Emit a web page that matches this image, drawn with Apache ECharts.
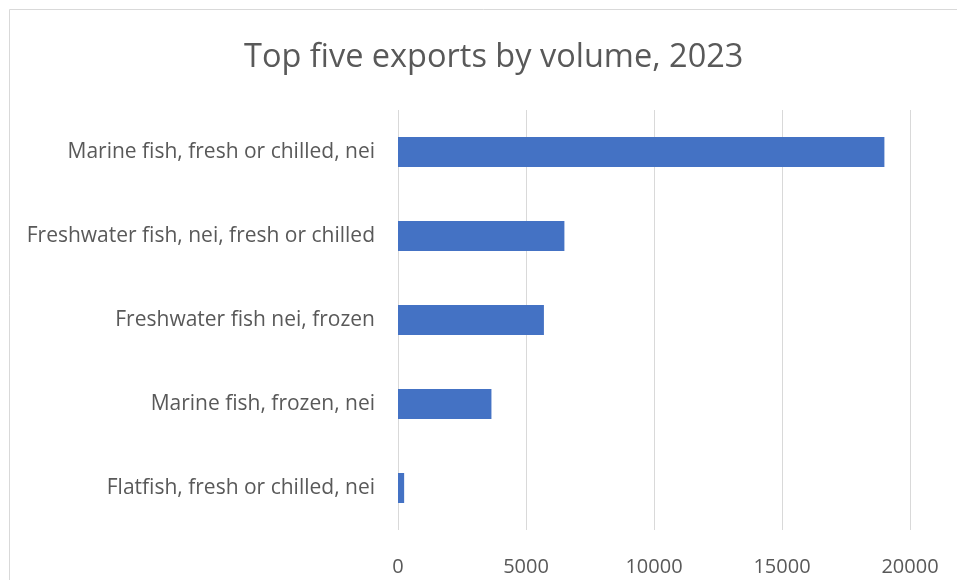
<!DOCTYPE html>
<html>
<head>
<meta charset="utf-8">
<script src="https://cdn.jsdelivr.net/npm/echarts@6/dist/echarts.min.js"></script>
<style>
  html, body { margin: 0; padding: 0; background: #ffffff; }
  #chart { width: 957px; height: 580px; }
</style>
</head>
<body>
<div id="chart"></div>
<script>
// Export products, listed top to bottom as drawn
const categories = [
  'Marine fish, fresh or chilled, nei',
  'Freshwater fish, nei, fresh or chilled',
  'Freshwater fish nei, frozen',
  'Marine fish, frozen, nei',
  'Flatfish, fresh or chilled, nei'
];
// Export volume per product
const volumes = [19000, 6500, 5700, 3650, 240];
// Value axis ticks
const xTicks = [0, 5000, 10000, 15000, 20000];

const chart = echarts.init(document.getElementById('chart'));
const textColor = '#595959';
const font = '"Open Sans", Lato, sans-serif';

chart.setOption({
  animation: false,
  backgroundColor: '#ffffff',
  graphic: [{
    type: 'rect',
    shape: { x: 9.5, y: 9.5, width: 1000, height: 1000 },
    style: { fill: 'none', stroke: '#d9d9d9', lineWidth: 1 },
    silent: true
  }],
  title: {
    text: 'Top five exports by volume, 2023',
    left: 239,
    top: 36,
    textStyle: { fontFamily: font, fontSize: 32.5, fontWeight: 'normal', color: textColor }
  },
  grid: { left: 398, right: 47, top: 110, height: 420, containLabel: false },
  xAxis: {
    type: 'value',
    min: xTicks[0],
    max: xTicks[xTicks.length - 1],
    interval: xTicks[1] - xTicks[0],
    axisLine: { show: false },
    axisTick: { show: false },
    splitLine: { show: true, lineStyle: { color: '#d9d9d9', width: 1 } },
    axisLabel: {
      margin: 27, fontFamily: font, fontSize: 20, color: textColor,
      formatter: v => String(v)
    }
  },
  yAxis: {
    type: 'category',
    inverse: true,
    data: categories,
    axisLine: { show: false },
    axisTick: { show: false },
    axisLabel: { margin: 23, fontFamily: font, fontSize: 21, color: textColor }
  },
  series: [{
    type: 'bar',
    data: volumes,
    barWidth: 30,
    itemStyle: { color: '#4472C4' }
  }]
});
</script>
</body>
</html>
